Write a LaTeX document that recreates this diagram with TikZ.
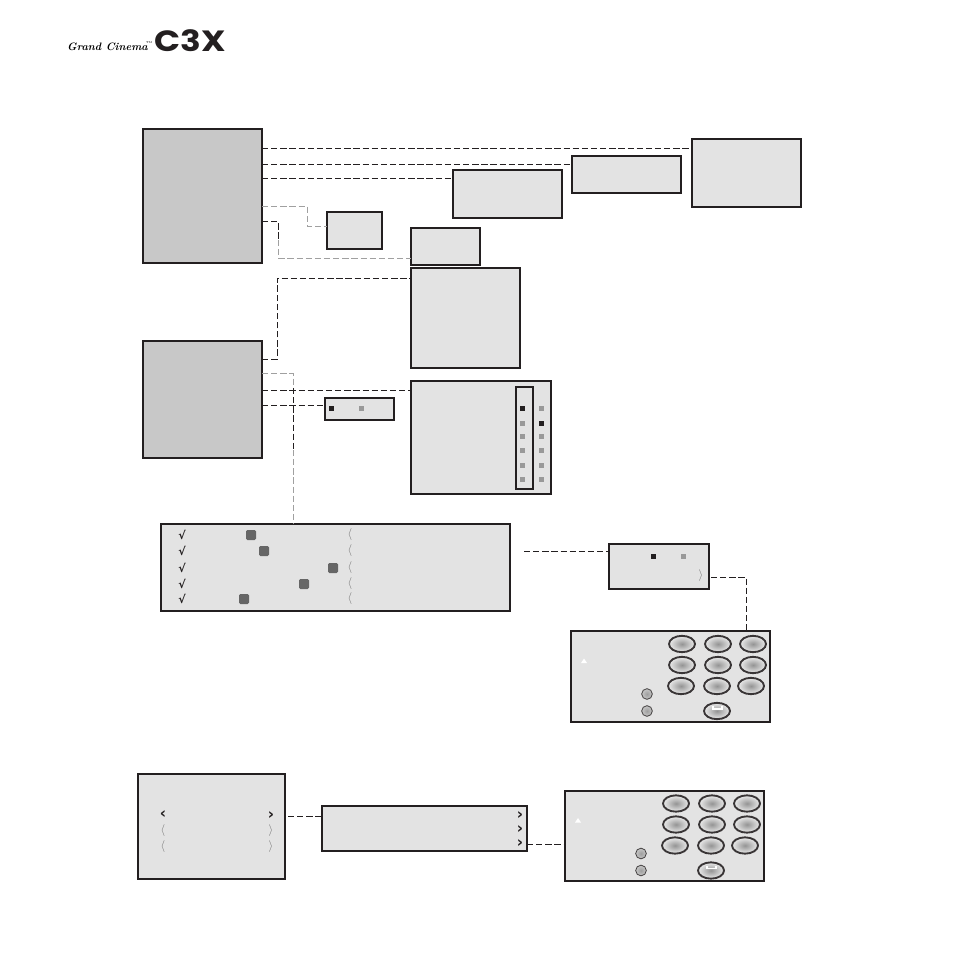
\documentclass[tikz,border=0pt]{standalone}
\usepackage{fontspec}
\newfontfamily\logofont{Poppins Bold}
\newfontfamily\tickfont{DejaVu Sans Bold}
\usepackage{tikz}
\usetikzlibrary{
    arrows.meta,
    positioning,
    shapes.geometric,
    shapes.misc,
    calc
}
\definecolor{panelgray}{HTML}{C8C8C8}
\definecolor{menugray}{HTML}{E3E3E3}
\definecolor{linegray}{HTML}{A0A0A0}
\definecolor{dotgray}{HTML}{999999}
\definecolor{inkdark}{HTML}{231F20}

\begin{document}
\begin{tikzpicture}[
  x=0.03cm,y=-0.03cm,
  panel/.style={rectangle,draw=inkdark,line width=0.9pt,fill=panelgray,
    anchor=north west,inner sep=0pt,outer sep=0pt},
  menu/.style={panel,fill=menugray},
  menuthick/.style={menu,line width=1.2pt},
  boxsize/.style 2 args={minimum width=#1*0.03cm,minimum height=#2*0.03cm},
  link/.style={draw=inkdark,line width=0.75pt,dash pattern=on 5.4pt off 2.4pt},
  linkgray/.style={link,draw=linegray},
  dotblack/.style={rectangle,fill=inkdark,minimum size=0.15cm,inner sep=0pt},
  dotpale/.style={dotblack,fill=dotgray},
  slider/.style={rectangle,rounded corners=1.2pt,fill=black!60,minimum size=0.3cm,inner sep=0pt},
  tick/.style={inner sep=0pt,text=inkdark,font=\tickfont\fontsize{9.5}{10}\selectfont},
  chevron/.style={inner sep=0pt,text=black!55,font=\fontsize{10}{12}\selectfont},
  chevronbold/.style={inner sep=0pt,text=inkdark,font=\tickfont\fontsize{13}{15}\selectfont},
  bigkey/.style={ellipse,draw=inkdark!90,line width=1.6pt,inner color=black!42,outer color=black!8,
    minimum width=0.78cm,minimum height=0.49cm,inner sep=0pt},
  smallkey/.style={circle,draw=inkdark!85,line width=0.7pt,inner color=black!38,outer color=black!22,
    minimum size=0.32cm,inner sep=0pt}
]
\useasboundingbox (0,0) rectangle (955,955);
% logo
\node[inner sep=0pt,font=\bfseries\itshape\fontsize{9.2}{12}\selectfont] (grand) at (107.5,47) {Grand Cinema};
\node[inner sep=0pt,font=\fontsize{2.5}{3}\selectfont] (trade) at (149,43) {TM};
\node[inner sep=0pt,font=\logofont\fontsize{25}{30}\selectfont,text=inkdark,xscale=1.17] (logo) at (190,41) {C3X};

% first group
\node[panel,boxsize={119}{134}] (maina) at (143,129) {};
\node[panel,boxsize={119}{117}] (mainb) at (143,341) {};
\node[menu,boxsize={55}{37}] (colour) at (327,212) {};
\node[menuthick,boxsize={69}{37}] (gamma) at (411,228) {};
\node[menuthick,boxsize={109}{100}] (advanced) at (411,268) {};
\node[menuthick,boxsize={109}{48}] (aspect) at (453,170) {};
\node[menuthick,boxsize={109}{37}] (source) at (572,156) {};
\node[menuthick,boxsize={109}{68}] (memory) at (692,139) {};
\node[menuthick,boxsize={69}{22}] (onoff) at (325,398) {};
\node[menu,boxsize={140}{113}] (config) at (411,381) {};
\node[rectangle,draw=inkdark,line width=1.4pt,anchor=north west,inner sep=0pt,boxsize={17}{102}] (column) at (515,386) {};

% second group
\node[menuthick,boxsize={349}{87}] (sliders) at (161,524) {};
\node[menu,boxsize={100}{45}] (confirm) at (609,544) {};
\node[menu,boxsize={199}{91}] (remotea) at (571,631) {};
\node[menu,boxsize={147}{105}] (tools) at (138,774) {};
\node[menuthick,boxsize={205}{45}] (list) at (322,806) {};
\node[menu,boxsize={199}{90}] (remoteb) at (565,791) {};

% connectors
\draw[link] (maina.east |- 0,148) -- (memory.west |- 0,148);
\draw[link] (maina.east |- 0,164) -- (source.west |- 0,164);
\draw[link] (maina.east |- 0,178) -- (aspect.west |- 0,178);
\draw[linkgray] (maina.east |- 0,206) -- (307,206) -- (307,226) -- (colour.west |- 0,226);
\draw[link] (maina.east |- 0,221) -- (278,221) -- (278,240);
\draw[linkgray] (278,240) -- (278,258) -- (gamma.west |- 0,258);
\draw[link] (mainb.east |- 0,359) -- (277,359) -- (277,278) -- (advanced.west |- 0,278);
\draw[linkgray] (mainb.east |- 0,373) -- (293,373) -- (293,388);
\draw[link] (293,388) -- (293,450);
\draw[linkgray] (293,450) -- (sliders.north -| 293,0);
\draw[link] (mainb.east |- 0,390) -- (config.west |- 0,390);
\draw[link] (mainb.east |- 0,405) -- (onoff.west |- 0,405);
\coordinate (slidersout) at (524,551);
\draw[link] (slidersout) -- (confirm.west |- 0,551);
\coordinate (confirmout) at (711,577);
\draw[link] (confirmout) -- (746,577) -- (remotea.north -| 746,0);
\coordinate (toolsout) at (288,816);
\draw[link] (toolsout) -- (list.west |- 0,816);
\draw[link] (list.east |- 0,844) -- (remoteb.west |- 0,844);

% indicator dots
\node[dotblack] (ona) at (331,408) {};
\node[dotpale] (offa) at (361,408) {};
\node[dotblack] (onb) at (653,556) {};
\node[dotpale] (offb) at (683,556) {};
\foreach \y [count=\i] in {408,423,436,450,465,479} {
  \node[dotpale] (left\i) at (522,\y) {};
  \node[dotpale] (right\i) at (541,\y) {};
}
\node[dotblack] (leftdot) at (522,408) {};
\node[dotblack] (rightdot) at (541,423) {};

% slider rows
\foreach \x/\y [count=\i] in {251/535,264/551,333/568,304/584,244/599} {
  \node[tick] (tick\i) at (182,\y) {√};
  \node[slider] (slide\i) at (\x,\y) {};
  \node[chevron] (chev\i) at (350,\y) {$\langle$};
}
\node[chevron] (chevconfirm) at (701,576) {$\rangle$};

% tool rows
\node[chevronbold] (tl1) at (163,815) {‹};
\node[chevronbold] (tr1) at (271,816) {›};
\node[chevron] (tl2) at (163,831) {$\langle$};
\node[chevron] (tr2) at (271,831) {$\rangle$};
\node[chevron] (tl3) at (163,847) {$\langle$};
\node[chevron] (tr3) at (271,847) {$\rangle$};
\foreach \y [count=\i] in {816,830,844}
  \node[chevronbold] (lr\i) at (520,\y) {›};

% remotes
\foreach \dx/\dy/\r in {0/0/a,-6/159.5/b} {
  \foreach \x/\y [count=\i] in {682/644,718/644,753/644,682/665,718/665,753/665,681/686,717/686,751/686,717/711} {
    \node[bigkey] (key\r\i) at (\x+\dx,\y+\dy) {};
  }
  \node[smallkey] (small\r1) at (647+\dx,694+\dy) {};
  \node[smallkey] (small\r2) at (647+\dx,711+\dy) {};
  \fill[white] (581+\dx,663+\dy) -- (584+\dx,658.5+\dy) -- (587+\dx,663+\dy) -- cycle;
  \draw[white,line width=0.9pt] (713+\dx,706+\dy) -- (713+\dx,709+\dy) -- (722+\dx,709+\dy) -- (722+\dx,706+\dy);
}
\end{tikzpicture}
\end{document}
